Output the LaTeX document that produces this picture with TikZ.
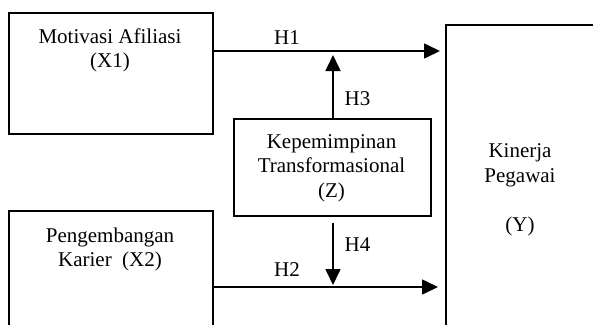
\documentclass[tikz,border=0pt]{standalone}
\usepackage{fontspec}
\setmainfont{Liberation Serif}
\usetikzlibrary{arrows.meta}
\begin{document}
\begin{tikzpicture}[x=1pt,y=-1pt,
  box/.style={draw,line width=1.6pt,rectangle,inner sep=0pt,anchor=north west},
  txt/.style={font=\fontsize{21}{24.5}\selectfont,align=center,inner sep=0pt},
  conn/.style={line width=1.6pt,-{Triangle[length=16pt,width=15pt]}},
  lbl/.style={font=\fontsize{21}{24.5}\selectfont,inner sep=0pt}]
\useasboundingbox (0,0) rectangle (593,324);
\clip (0,0) rectangle (593,324);
% boxes
\node[box,minimum width=204pt,minimum height=121pt] (X1) at (8,12) {};
\node[box,minimum width=204pt,minimum height=140pt] (X2) at (8,210) {};
\node[box,minimum width=197pt,minimum height=97pt] (Z) at (233,118) {};
\node[box,minimum width=200pt,minimum height=340pt] (Y) at (445,24) {};
% texts (base = baseline of last line)
\node[txt,anchor=base] (tX1) at (110,67.5) {Motivasi Afiliasi\\(X1)};
\node[txt,anchor=base] (tX2) at (110,266.5) {Pengembangan\\Karier\ \ (X2)};
\node[txt,anchor=base] (tZ) at (331.5,197) {Kepemimpinan\\Transformasional\\(Z)};
\node[txt,anchor=base] (tY) at (520,231) {Kinerja\\Pegawai\\[24.5pt](Y)};
% connector end points
\coordinate (h1s) at (X1.east |- 0,51);
\coordinate (h1e) at (440,51);
\coordinate (h2s) at (X2.east |- 0,287);
\coordinate (h2e) at (438,287);
\coordinate (h3s) at (333,118);
\coordinate (h3e) at (333,55);
\coordinate (h4s) at (333,223);
\coordinate (h4e) at (333,285);
% connectors
\draw[conn] (h1s) -- (h1e);
\draw[conn] (h2s) -- (h2e);
\draw[conn] (h3s) -- (h3e);
\draw[conn] (h4s) -- (h4e);
% labels
\node[lbl] (H1) at (287,38) {H1};
\node[lbl] (H2) at (287,270) {H2};
\node[lbl] (H3) at (357.5,99) {H3};
\node[lbl] (H4) at (357.5,245) {H4};
\end{tikzpicture}
\end{document}
